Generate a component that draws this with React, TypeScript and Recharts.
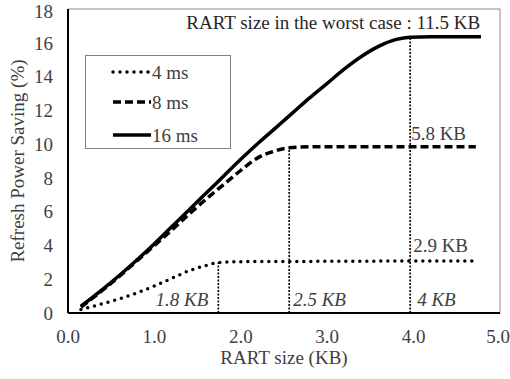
import { Legend, Line, LineChart, ReferenceDot, ReferenceLine, XAxis, YAxis } from 'recharts'

// RART size (KB) vs refresh power saving (%) for each refresh interval
const RART_4MS = [0.15, 0.4, 0.6, 0.8, 1.0, 1.2, 1.4, 1.6, 1.74, 2.0, 2.5, 3.0, 3.5, 4.0, 4.5, 4.72]
const SAVING_4MS = [0.2, 0.55, 0.85, 1.2, 1.6, 2.05, 2.5, 2.82, 2.98, 3.04, 3.05, 3.06, 3.07, 3.08, 3.08, 3.08]

const RART_8MS = [0.15, 0.4, 0.6, 0.8, 1.0, 1.2, 1.4, 1.6, 1.8, 2.0, 2.2, 2.4, 2.56, 2.8, 3.2, 3.6, 4.0, 4.4, 4.72]
const SAVING_8MS = [0.35, 1.35, 2.2, 3.1, 4.0, 4.9, 5.85, 6.75, 7.6, 8.45, 9.2, 9.6, 9.78, 9.84, 9.85, 9.85, 9.85, 9.85, 9.85]

const RART_16MS = [0.15, 0.4, 0.6, 0.8, 1.0, 1.2, 1.4, 1.6, 1.8, 2.0, 2.2, 2.4, 2.6, 2.8, 3.0, 3.2, 3.4, 3.6, 3.8, 3.96, 4.2, 4.5, 4.78]
const SAVING_16MS = [0.4, 1.4, 2.25, 3.15, 4.1, 5.1, 6.1, 7.1, 8.1, 9.1, 10.05, 10.95, 11.85, 12.75, 13.6, 14.45, 15.2, 15.8, 16.2, 16.33, 16.35, 16.35, 16.35]

const X_TICKS = [0, 1, 2, 3, 4, 5]
const Y_TICKS = [0, 2, 4, 6, 8, 10, 12, 14, 16, 18]

// dotted guides where each curve saturates
const GUIDE_X = [1.74, 2.56, 3.96]
const GUIDE_TOP = [3.0, 9.8, 16.3]

type Note = { x: number; y: number; text: string; dx: number; anchor: 'start' | 'end'; italic?: boolean }
const NOTES: Note[] = [
  { x: 1.74, y: 0.77, text: '1.8 KB', dx: -10, anchor: 'end', italic: true },
  { x: 2.56, y: 0.77, text: '2.5 KB', dx: 4, anchor: 'start', italic: true },
  { x: 3.96, y: 0.77, text: '4 KB', dx: 7, anchor: 'start', italic: true },
  { x: 3.96, y: 4.0, text: '2.9 KB', dx: 3, anchor: 'start' },
  { x: 3.96, y: 10.65, text: '5.8 KB', dx: 1, anchor: 'start' },
  { x: 4.77, y: 17.2, text: 'RART size in the worst case : 11.5 KB', dx: 0, anchor: 'end' },
]

const FONT = "'Liberation Serif', 'DejaVu Serif', 'Times New Roman', Times, serif"
const TXT = '#404040'

type Serie = { nome: string; xs: number[]; ys: number[]; dash: string; cap: 'round' | 'butt' }
const SERIES: Serie[] = [
  { nome: '4 ms', xs: RART_4MS, ys: SAVING_4MS, dash: '0 7', cap: 'round' },
  { nome: '8 ms', xs: RART_8MS, ys: SAVING_8MS, dash: '8 4', cap: 'butt' },
  { nome: '16 ms', xs: RART_16MS, ys: SAVING_16MS, dash: '', cap: 'butt' },
]

const fonte = { fontSize: 19, fill: TXT, fontFamily: FONT }

function LegendaBox() {
  return (
    <svg width={146} height={94} style={{ display: 'block' }}>
      <rect x={0.5} y={0.5} width={145} height={93} fill="#fff" stroke="#808080" />
      {SERIES.map((s, i) => {
        const y = [17, 47, 80][i]
        return (
          <g key={s.nome}>
            <line
              x1={28}
              x2={66}
              y1={y}
              y2={y}
              stroke="#000"
              strokeWidth={3.5}
              strokeDasharray={s.dash || undefined}
              strokeLinecap={s.cap}
            />
            <text x={67} y={y} dominantBaseline="central" style={fonte}>
              {s.nome}
            </text>
          </g>
        )
      })}
    </svg>
  )
}

export default function App() {
  return (
    <div style={{ position: 'fixed', left: 0, top: 0, width: 510, height: 379, background: '#fff', fontFamily: FONT }}>
      <LineChart width={510} height={379} margin={{ top: 9, right: 10, left: 8, bottom: 11 }} style={{ fontFamily: FONT }}>
        <ReferenceLine y={18} stroke="#8c8c8c" strokeWidth={1} />
        <ReferenceLine x={5} stroke="#8c8c8c" strokeWidth={1} />
        {GUIDE_X.map((gx, i) => (
          <ReferenceLine
            key={gx}
            segment={[{ x: gx, y: 0 }, { x: gx, y: GUIDE_TOP[i] }]}
            stroke="#000"
            strokeWidth={1.6}
            strokeDasharray="2 1.5"
          />
        ))}
        <XAxis
          type="number"
          dataKey="x"
          domain={[0, 5]}
          ticks={X_TICKS}
          tickFormatter={(v: number) => v.toFixed(1)}
          allowDataOverflow
          height={55}
          tickSize={0}
          tickMargin={17}
          tickLine={false}
          axisLine={{ stroke: '#000', strokeWidth: 2 }}
          tick={{ ...fonte, style: { fontFamily: FONT } }}
          label={{
            value: 'RART size (KB)',
            position: 'insideBottom',
            offset: 4,
            style: fonte,
          }}
        />
        <YAxis
          type="number"
          domain={[0, 18]}
          ticks={Y_TICKS}
          allowDataOverflow
          width={60}
          tickSize={0}
          tickMargin={15}
          tickLine={false}
          axisLine={{ stroke: '#000', strokeWidth: 2 }}
          tick={{ ...fonte, style: { fontFamily: FONT } }}
          label={{
            content: () => (
              <text
                x={17}
                y={161}
                transform="rotate(-90 17 161)"
                textAnchor="middle"
                dominantBaseline="central"
                style={fonte}
              >
                Refresh Power Saving (%)
              </text>
            ),
          }}
        />
        {SERIES.map((s) => (
          <Line
            key={s.nome}
            name={s.nome}
            data={s.xs.map((x, i) => ({ x, y: s.ys[i] }))}
            dataKey="y"
            type="monotone"
            stroke="#000"
            strokeWidth={3.5}
            strokeDasharray={s.dash || undefined}
            strokeLinecap={s.cap}
            dot={false}
            activeDot={false}
            isAnimationActive={false}
          />
        ))}
        {NOTES.map((n) => (
          <ReferenceDot
            key={n.text}
            x={n.x}
            y={n.y}
            r={0}
            shape={(p: { cx?: number; cy?: number }) => (
              <text
                x={(p.cx ?? 0) + n.dx}
                y={p.cy ?? 0}
                textAnchor={n.anchor}
                dominantBaseline="central"
                style={{
                  ...fonte,
                  fontStyle: n.italic ? 'italic' : 'normal',
                  fill: n.anchor === 'end' && !n.italic ? '#262626' : TXT,
                }}
              >
                {n.text}
              </text>
            )}
          />
        ))}
        <Legend
          layout="horizontal"
          align="center"
          verticalAlign="middle"
          content={() => <LegendaBox />}
          wrapperStyle={{ left: 85, top: 55, width: 146, height: 94 }}
        />
      </LineChart>
    </div>
  )
}
